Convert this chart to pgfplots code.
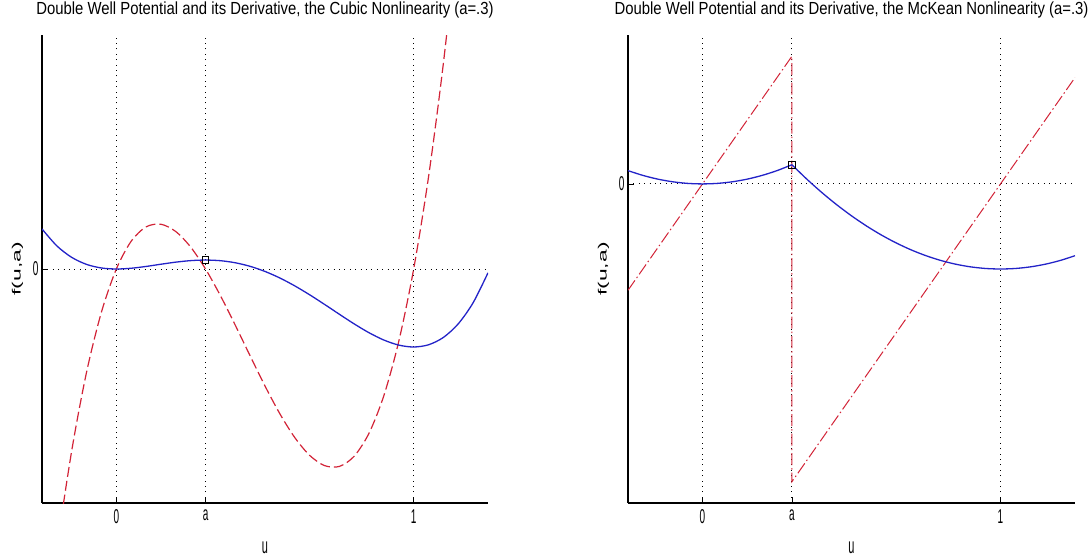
\documentclass[border=0pt]{standalone}
\usepackage{pgfplots}
\usepackage{pgfplotstable}
\pgfplotsset{compat=1.18}
\usepackage{fontspec}
\setmainfont{Liberation Sans}
\newfontfamily\titlefamily{Liberation Sans}[FakeStretch=0.85]
\newfontfamily\tickfamily{Liberation Sans}[FakeStretch=0.5]
\newfontfamily\ylabfamily{Liberation Sans}[FakeStretch=1.9]
\newcommand\titlefont{\titlefamily\fontsize{17.5}{20}\selectfont}
\newcommand\tickfont{\tickfamily\fontsize{20}{22}\selectfont}
\newcommand\xlabfont{\tickfamily\fontsize{22}{24}\selectfont}
\newcommand\ylabfont{\ylabfamily\fontsize{12}{14}\selectfont}

\definecolor{potblue}{RGB}{35,35,200}
\definecolor{derivred}{RGB}{210,35,55}

% cubic nonlinearity f(u)=u(u-a)(u-1) and its potential F(u), a=0.3
\pgfplotstableread{
u      f          F
-0.25  -0.171875   0.01712240
-0.20  -0.120000   0.00986667
-0.15  -0.077625   0.00496406
-0.10  -0.044000   0.00195833
-0.05  -0.018375   0.00043073
 0.00   0.000000   0.00000000
 0.05   0.011875   0.00032240
 0.10   0.018000   0.00109167
 0.15   0.019125   0.00203906
 0.20   0.016000   0.00293333
 0.25   0.009375   0.00358073
 0.30   0.000000   0.00382500
 0.35  -0.011375   0.00354740
 0.40  -0.024000   0.00266667
 0.45  -0.037125   0.00113906
 0.50  -0.050000  -0.00104167
 0.55  -0.061875  -0.00384427
 0.60  -0.072000  -0.00720000
 0.65  -0.079625  -0.01100261
 0.70  -0.084000  -0.01510833
 0.75  -0.084375  -0.01933594
 0.80  -0.080000  -0.02346667
 0.85  -0.070125  -0.02724427
 0.90  -0.054000  -0.03037500
 0.95  -0.030875  -0.03252761
 1.00   0.000000  -0.03333333
 1.05   0.039375  -0.03238594
 1.10   0.088000  -0.02924167
 1.15   0.146625  -0.02341927
 1.20   0.216000  -0.01440000
 1.25   0.296875  -0.00162761
}\cubic

% McKean potential, branch u<a and branch u>a
\pgfplotstableread{
u      F
-0.25  0.03125
-0.20  0.02000
-0.15  0.01125
-0.10  0.00500
-0.05  0.00125
 0.00  0.00000
 0.05  0.00125
 0.10  0.00500
 0.15  0.01125
 0.20  0.02000
 0.25  0.03125
 0.30  0.04500
}\mckeanleft
\pgfplotstableread{
u      F
 0.30  0.04500
 0.35  0.01125
 0.40 -0.02000
 0.45 -0.04875
 0.50 -0.07500
 0.55 -0.09875
 0.60 -0.12000
 0.65 -0.13875
 0.70 -0.15500
 0.75 -0.16875
 0.80 -0.18000
 0.85 -0.18875
 0.90 -0.19500
 0.95 -0.19875
 1.00 -0.20000
 1.05 -0.19875
 1.10 -0.19500
 1.15 -0.18875
 1.20 -0.18000
 1.25 -0.16875
}\mckeanright

\pgfplotsset{
  wellaxis/.style={
    scale only axis, width=446pt, height=468pt, anchor=south west,
    xmin=-0.25, xmax=1.25,
    axis x line=bottom, axis y line=left,
    axis line style={-, line width=1.1pt},
    xtick={0,0.3,1}, xticklabels={0,a,1}, ytick={0}, yticklabels={0},
    tick align=inside, major tick length=6pt,
    tick style={black, line width=0.8pt},
    xticklabel style={font=\tickfont, yshift=-3pt},
    yticklabel style={font=\tickfont},
    xlabel={u}, ylabel={f(u,a)},
    xlabel style={font=\xlabfont, at={(axis description cs:0.5,-0.107)}, anchor=base},
    ylabel style={font=\ylabfont, at={(axis description cs:-0.055,0.5)}, anchor=center},
    title style={font=\titlefont, at={(axis description cs:0.5,1.032)}, anchor=base},
    clip=true,
  },
  guide/.style={black, line width=0.9pt, dash pattern=on 0.9pt off 4.5pt},
  potential/.style={potblue, line width=1.3pt},
}

\begin{document}
\begin{tikzpicture}
\useasboundingbox (0,0) rectangle (1092pt,558pt);

\begin{axis}[wellaxis, at={(42pt,55pt)}, ymin=-0.1, ymax=0.1,
  title={Double Well Potential and its Derivative, the Cubic Nonlinearity (a=.3)}]
  \addplot[guide] coordinates {(-0.25,0) (1.25,0)};
  \addplot[guide] coordinates {(0,-0.1) (0,0.1)};
  \addplot[guide] coordinates {(0.3,-0.1) (0.3,0.1)};
  \addplot[guide] coordinates {(1,-0.1) (1,0.1)};
  \addplot[derivred, line width=1.2pt, dash pattern=on 10pt off 4pt, smooth] table[x=u, y=f] {\cubic};
  \addplot[potential, smooth] table[x=u, y=F] {\cubic};
  \addplot[black, only marks, mark=square, mark size=3.3pt, mark options={line width=0.8pt}]
    coordinates {(0.3,0.003825)};
\end{axis}

\begin{axis}[wellaxis, width=447pt, at={(628pt,55pt)}, ymin=-0.75, ymax=0.35,
  title={Double Well Potential and its Derivative, the McKean Nonlinearity (a=.3)}]
  \addplot[guide] coordinates {(-0.25,0) (1.25,0)};
  \addplot[guide] coordinates {(0,-0.75) (0,0.35)};
  \addplot[guide] coordinates {(0.3,-0.75) (0.3,0.35)};
  \addplot[guide] coordinates {(1,-0.75) (1,0.35)};
  \addplot[derivred, line width=1pt, dash pattern=on 12pt off 3pt on 1.5pt off 3pt]
    coordinates {(-0.25,-0.25) (0.3,0.3) (0.3,-0.7) (1.25,0.25)};
  \addplot[potential, smooth] table[x=u, y=F] {\mckeanleft};
  \addplot[potential, smooth] table[x=u, y=F] {\mckeanright};
  \addplot[black, only marks, mark=square, mark size=3.3pt, mark options={line width=0.8pt}]
    coordinates {(0.3,0.045)};
\end{axis}
\end{tikzpicture}
\end{document}
